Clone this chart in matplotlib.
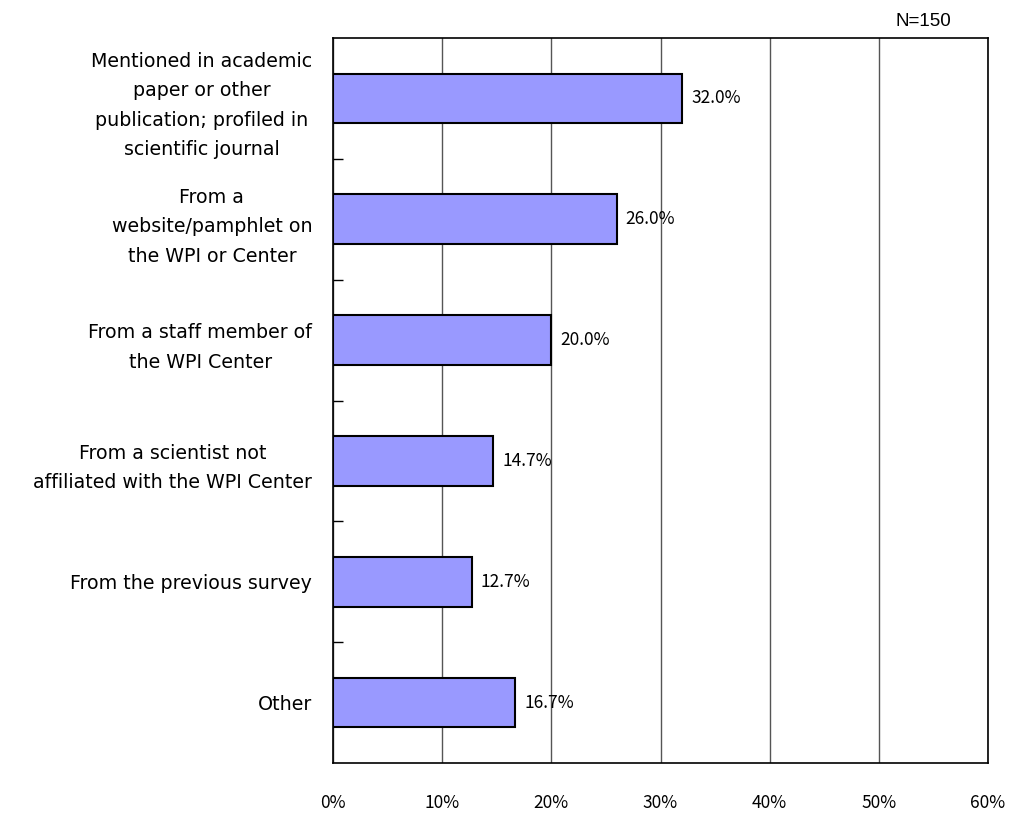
import matplotlib
matplotlib.use('Agg')
import matplotlib.pyplot as plt
import numpy as np

plt.rcParams['font.family'] = ['Noto Sans CJK JP', 'DejaVu Sans']

categories = [
    'Mentioned in academic\npaper or other\npublication; profiled in\nscientific journal',
    'From a\nwebsite/pamphlet on\nthe WPI or Center',
    'From a staff member of\nthe WPI Center',
    'From a scientist not\naffiliated with the WPI Center',
    'From the previous survey',
    'Other',
]
values = [32.0, 26.0, 20.0, 14.7, 12.7, 16.7]
xticks = [0, 10, 20, 30, 40, 50, 60]
xtick_labels = ['0%', '10%', '20%', '30%', '40%', '50%', '60%']

fig = plt.figure(figsize=(10.13, 8.15), dpi=100)
ax = fig.add_axes([333 / 1013, 1 - 763 / 815, 655 / 1013, 725 / 815])

y = np.arange(len(categories))
ax.barh(y, values, height=0.41, color='#9999ff', edgecolor='black', linewidth=1.5, zorder=3)
for yi, v in zip(y, values):
    ax.text(v + 0.8, yi, f'{v:.1f}%', va='center', ha='left', fontsize=12.5)

ax.set_xlim(0, 60)
ax.set_ylim(len(categories) - 0.5, -0.5)
ax.set_xticks(xticks)
ax.set_xticklabels(xtick_labels, fontsize=12.5)
ax.xaxis.grid(True, color='#555555', linewidth=1, zorder=0)
ax.tick_params(axis='x', length=0, pad=22)

ax.set_yticks(y)
ax.set_yticklabels(categories, fontsize=13.7, family='DejaVu Sans',
                   multialignment='center', linespacing=1.7)
ax.tick_params(axis='y', which='major', length=0, pad=15)
ax.set_yticks(np.arange(0.5, len(categories) - 1, 1), minor=True)
ax.tick_params(axis='y', which='minor', direction='in', length=7, width=1)

for s in ax.spines.values():
    s.set_linewidth(1.2)
    s.set_color('black')

fig.text(923 / 1013, 1 - 22 / 815, 'N=150', ha='center', va='center',
         fontsize=13.5, family='Liberation Sans')

fig.savefig('out.png', dpi=100)
